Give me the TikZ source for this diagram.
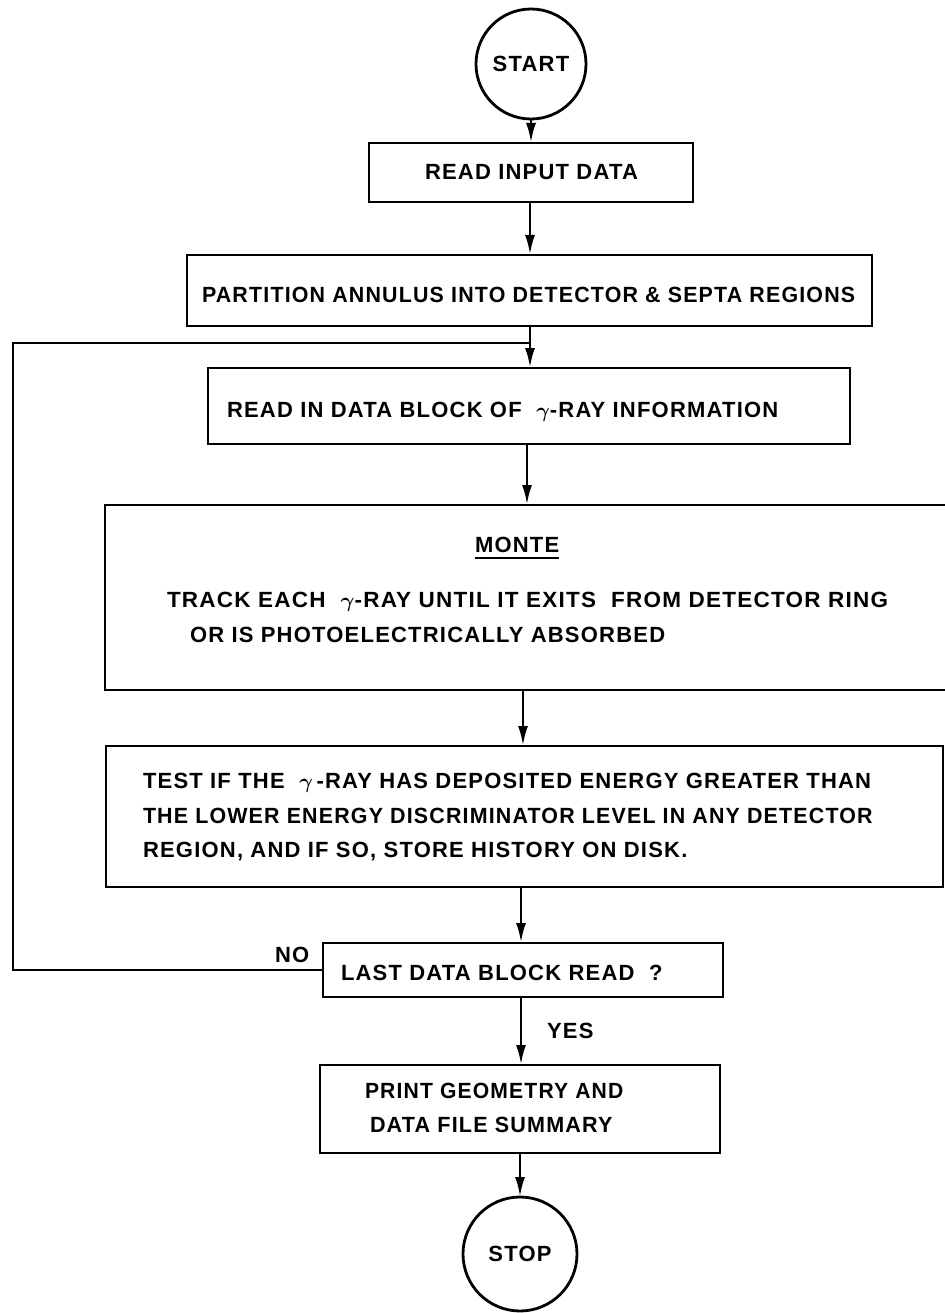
\documentclass[tikz,border=0pt]{standalone}
\usepackage{fontspec}
\usepackage{graphicx}
\usepackage{bm}
\setmainfont{Liberation Sans}[LetterSpace=5.5]
\usetikzlibrary{arrows.meta}

\tikzset{
  box/.style={draw, line width=2.8pt, inner sep=0pt, outer sep=0pt},
  term/.style={draw, circle, line width=2.8pt, inner sep=0pt, outer sep=0pt,
    font=\fontsize{22}{26}\selectfont\bfseries},
  lbl/.style={anchor=base west, inner sep=0pt, outer sep=0pt,
    font=\fontsize{22}{26}\selectfont\bfseries},
  wire/.style={line width=2.8pt},
  flow/.style={line width=2.8pt, -{Latex[length=20pt,width=10pt]}}
}
\newcommand{\gam}{$\bm{\gamma}$}
% horizontal squeeze or stretch of one line of lettering
\newcommand{\hfit}[2]{\scalebox{#1}[1]{#2}}

\begin{document}
\begin{tikzpicture}[x=1pt, y=-1pt]
  \useasboundingbox (0,0) rectangle (944,1313);

  % terminals and process boxes
  \node[term, minimum size=110pt] (start) at (531,64) {START};
  \node[box, minimum width=324pt, minimum height=59pt] (readinput) at (531,172.5) {};
  \node[box, minimum width=685pt, minimum height=71pt] (partition) at (529.5,290.5) {};
  \node[box, minimum width=642pt, minimum height=76pt] (readblock) at (529,406) {};
  \node[box, minimum width=843pt, minimum height=185pt] (monte) at (526.5,597.5) {};
  \node[box, minimum width=837pt, minimum height=141pt] (test) at (524.5,816.5) {};
  \node[box, minimum width=400pt, minimum height=54pt] (last) at (523,970) {};
  \node[box, minimum width=400pt, minimum height=88pt] (print) at (520,1109) {};
  \node[term, minimum size=114pt] (stop) at (520,1254) {STOP};

  % box texts
  \node[lbl] (t1) at (425,180) {READ INPUT DATA};
  \node[lbl] (t2) at (202,302) {\hfit{0.973}{PARTITION ANNULUS INTO DETECTOR \& SEPTA REGIONS}};
  \node[lbl] (t3) at (227,417) {READ IN DATA BLOCK OF~~\gam-RAY INFORMATION};
  \node[lbl] (montelbl) at (475,552) {MONTE};
  \draw[line width=1.8pt] ([yshift=-6pt]montelbl.base west) -- ([yshift=-6pt]montelbl.base east);
  \node[lbl] (t4) at (167,607) {\hfit{1.023}{TRACK EACH~~\gam-RAY UNTIL IT EXITS~~FROM DETECTOR RING}};
  \node[lbl] (t5) at (190,642) {OR IS PHOTOELECTRICALLY ABSORBED};
  \node[lbl] (t6) at (143,788) {TEST IF THE~~\gam\,-RAY HAS DEPOSITED ENERGY GREATER THAN};
  \node[lbl] (t7) at (143,823) {\hfit{0.973}{THE LOWER ENERGY DISCRIMINATOR LEVEL IN ANY DETECTOR}};
  \node[lbl] (t8) at (143,857) {REGION, AND IF SO, STORE HISTORY ON DISK.};
  \node[lbl] (t9) at (341,980) {LAST DATA BLOCK READ~~?};
  \node[lbl] (t10) at (365,1098) {\hfit{0.96}{PRINT GEOMETRY AND}};
  \node[lbl] (t11) at (370,1132) {\hfit{0.98}{DATA FILE SUMMARY}};

  % branch labels
  \node[lbl] (no) at (275,962) {NO};
  \node[lbl] (yes) at (547,1038) {YES};

  % vertical axes of the connectors
  \coordinate (ax1) at (530,0);
  \coordinate (ax2) at (527,0);
  \coordinate (ax3) at (523,0);
  \coordinate (ax4) at (521,0);
  \coordinate (ax5) at (520,0);
  \coordinate (loopx) at (13,0);
  \coordinate (join) at (530,343);

  % main flow
  \draw[flow] (start.south) -- (readinput.north);
  \draw[flow] (readinput.south -| ax1) -- (partition.north -| ax1);
  \draw[flow] (partition.south -| ax1) -- (readblock.north -| ax1);
  \draw[flow] (readblock.south -| ax2) -- (monte.north -| ax2);
  \draw[flow] (monte.south -| ax3) -- (test.north -| ax3);
  \draw[flow] (test.south -| ax4) -- (last.north -| ax4);
  \draw[flow] (last.south -| ax4) -- (print.north -| ax4);
  \draw[flow] (print.south -| ax5) -- (stop.north -| ax5);

  % NO branch back to the data block read
  \draw[wire] (last.west) -- (last.west -| loopx) -- (loopx |- join) -- (join);
\end{tikzpicture}
\end{document}
